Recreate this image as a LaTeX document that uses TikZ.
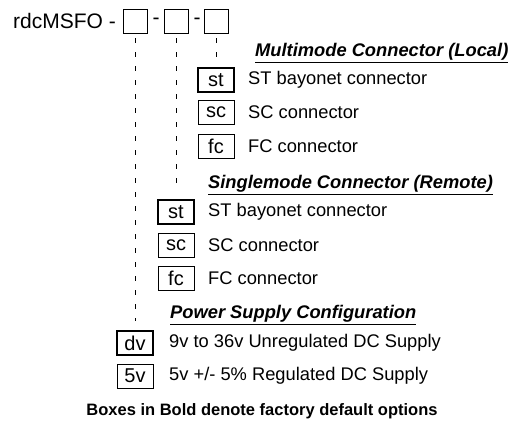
\documentclass[tikz,border=0pt]{standalone}
\usepackage{fontspec}
\setmainfont{Liberation Sans}
\usetikzlibrary{positioning}
\tikzset{
  slot/.style={rectangle, draw, line width=0.8pt, minimum width=24pt, minimum height=24pt, inner sep=0pt},
  opt/.style={rectangle, draw, line width=0.8pt, minimum width=36pt, minimum height=24pt, inner sep=0pt, font=\fontsize{20}{22}\selectfont},
  defopt/.style={opt, line width=2.6pt},
  desc/.style={anchor=west, inner sep=0pt, font=\fontsize{18.3}{20}\selectfont},
  head/.style={anchor=west, inner sep=0pt, font=\fontsize{18.3}{20}\selectfont\bfseries\itshape},
  guide/.style={line width=0.8pt, dash pattern=on 5pt off 9pt, shorten <=5pt}
}

\begin{document}
\begin{tikzpicture}[x=1pt, y=-1pt]
\useasboundingbox (0,0) rectangle (518,439);
% part number
\node (title) [anchor=east, inner sep=0pt, font=\fontsize{21}{24}\selectfont] at (116,21) {rdcMSFO -};
\node (b1) [slot] at (135,21) {};
\node (d1) [inner sep=0pt, font=\fontsize{21}{24}\selectfont] at (156,21) {-};
\node (b2) [slot] at (176,21) {};
\node (d2) [inner sep=0pt, font=\fontsize{21}{24}\selectfont] at (197,21) {-};
\node (b3) [slot] at (216,21) {};
% multimode
\node (mmhead) [head] at (255,53) {\underline{Multimode Connector (Local)}};
\node (mst) [defopt] at (216,80) {st};
\node (mstd) [desc] at (248,80) {ST bayonet connector};
\node (msc) [opt] at (216,112) {sc};
\node (mscd) [desc] at (248,112) {SC connector};
\node (mfc) [opt] at (216,146) {fc};
\node (mfcd) [desc] at (248,146) {FC connector};
% singlemode
\node (smhead) [head] at (208,185) {\underline{Singlemode Connector (Remote)}};
\node (sst) [defopt] at (176,212) {st};
\node (sstd) [desc] at (208,212) {ST bayonet connector};
\node (ssc) [opt] at (176,245) {sc};
\node (sscd) [desc] at (208,245) {SC connector};
\node (sfc) [opt] at (176,278) {fc};
\node (sfcd) [desc] at (208,278) {FC connector};
% power
\node (pwhead) [head] at (170,315) {\underline{Power Supply Configuration}};
\node (pdv) [defopt] at (135,343) {dv};
\node (pdvd) [desc] at (169,343) {9v to 36v Unregulated DC Supply};
\node (p5v) [opt] at (135,376) {5v};
\node (p5vd) [desc] at (169,376) {5v +/- 5\% Regulated DC Supply};
\node (note) [inner sep=0pt, font=\fontsize{16.5}{18}\selectfont\bfseries] at (262,411) {Boxes in Bold denote factory default options};
% guides
\draw [guide] (b3.south) -- ([yshift=10pt]mst.north);
\draw [guide] (b2.south) -- ([yshift=10pt]sst.north);
\draw [guide] (b1.south) -- ([yshift=9pt]pdv.north);
\end{tikzpicture}
\end{document}
